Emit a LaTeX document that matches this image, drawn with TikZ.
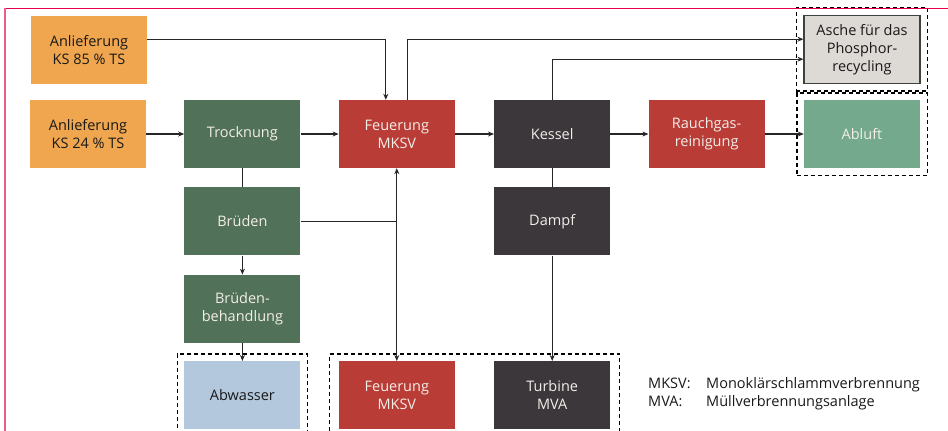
\documentclass[tikz,border=0pt]{standalone}
\usepackage{fontspec}
\setmainfont{Open Sans}
\usepackage{xcolor}
\usetikzlibrary{arrows.meta, positioning, fit, backgrounds}
\definecolor{lief}{HTML}{EFA64F}
\definecolor{tgreen}{HTML}{517158}
\definecolor{fred}{HTML}{BA3C36}
\definecolor{kdark}{HTML}{3B373B}
\definecolor{abluftc}{HTML}{74A98D}
\definecolor{abwc}{HTML}{B3C8DD}
\definecolor{aschec}{HTML}{DDD9D5}
\definecolor{boxtext}{HTML}{F2EEE8}
\definecolor{pinktop}{HTML}{E5004B}
\definecolor{pinkleft}{HTML}{EF5A8A}

\begin{document}
\begin{tikzpicture}[x=1pt, y=1pt, >={Stealth[length=6pt, width=5pt]},
  box/.style={minimum width=116pt, minimum height=68pt, inner sep=0pt, align=center,
    text=black!90, font=\fontsize{14.5}{18}\selectfont},
  liefer/.style={box, fill=lief},
  gruen/.style={box, fill=tgreen, text=boxtext},
  rot/.style={box, fill=fred, text=boxtext},
  dunkel/.style={box, fill=kdark, text=boxtext},
  rahmen/.style={draw=black, line width=1.4pt, dash pattern=on 4pt off 3pt},
  flow/.style={line width=1.3pt, draw=black!85}]
  \useasboundingbox (0,0) rectangle (948,-431);
  \draw[pinktop, line width=1pt] (5,-8) -- (948,-8);
  \draw[pinkleft, line width=2pt] (5,-8) -- (5,-431);

  \node[liefer] (anlB) at (88,-134) {Anlieferung\\KS 24 \% TS};
  \node[liefer, above=16pt of anlB, xshift=1pt] (anlA) {Anlieferung\\KS 85 \% TS};
  \node[gruen, right=38pt of anlB] (trock) {Trocknung};
  \node[rot, right=38pt of trock] (feuer) {Feuerung\\MKSV};
  \node[dunkel, right=39pt of feuer] (kessel) {Kessel};
  \node[rot, right=38pt of kessel] (rauch) {Rauchgas-\\reinigung};
  \node[box, fill=abluftc, text=boxtext, right=39pt of rauch] (abluft) {Abluft};
  \node[box, fill=aschec, draw=black!75, line width=1.2pt, above=16pt of abluft] (asche) {Asche für das\\Phosphor-\\recycling};
  \node[gruen, below=19pt of trock] (brued) {Brüden};
  \node[gruen, below=19pt of brued] (bbeh) {Brüden-\\behandlung};
  \node[box, fill=abwc, below=18pt of bbeh] (abw) {Abwasser};
  \node[rot, right=38pt of abw] (feuer2) {Feuerung\\MKSV};
  \node[dunkel, right=39pt of feuer2] (turb) {Turbine\\MVA};
  \node[dunkel, below=19pt of kessel] (dampf) {Dampf};

  \node[anchor=west, inner sep=0pt, text=black!90, font=\fontsize{14.5}{18}\selectfont] (legende) at (648,-394)
    {\begin{tabular}{@{}p{58pt}@{}l@{}}
      MKSV: & Monoklärschlammverbrennung\\
      MVA:  & Müllverbrennungsanlage
    \end{tabular}};

  \begin{scope}[on background layer]
    \node[rahmen, fit=(asche), inner sep=7pt] (fitasche) {};
    \node[rahmen, fit=(abluft), inner sep=7pt] (fitabluft) {};
    \node[rahmen, fit=(abw), inner sep=7pt] (fitabw) {};
    \node[rahmen, fit=(feuer2)(turb), inner xsep=9pt, inner ysep=7pt] (fitmva) {};
  \end{scope}

  \draw[flow, ->] ([yshift=10pt]anlA.east) -| ([xshift=-11pt]feuer.north);
  \draw[flow, ->] ([xshift=11pt]feuer.north) |- ([yshift=10pt]asche.west);
  \draw[flow, ->] (kessel.north) |- ([yshift=-10pt]asche.west);
  \draw[flow, ->] (anlB) -- (trock);
  \draw[flow, ->] (trock) -- (feuer);
  \draw[flow, ->] (feuer) -- (kessel);
  \draw[flow, ->] (kessel) -- (rauch);
  \draw[flow, ->] (rauch) -- (abluft);
  \draw[flow] (trock) -- (brued);
  \draw[flow, ->] (brued) -- (bbeh);
  \draw[flow, ->] (bbeh) -- (abw);
  \draw[flow, <->] (feuer2) -- (feuer);
  \draw[flow] (brued.east) -- (brued.east -| feuer.south);
  \draw[flow] (kessel) -- (dampf);
  \draw[flow, ->] (dampf) -- (turb);
\end{tikzpicture}
\end{document}
